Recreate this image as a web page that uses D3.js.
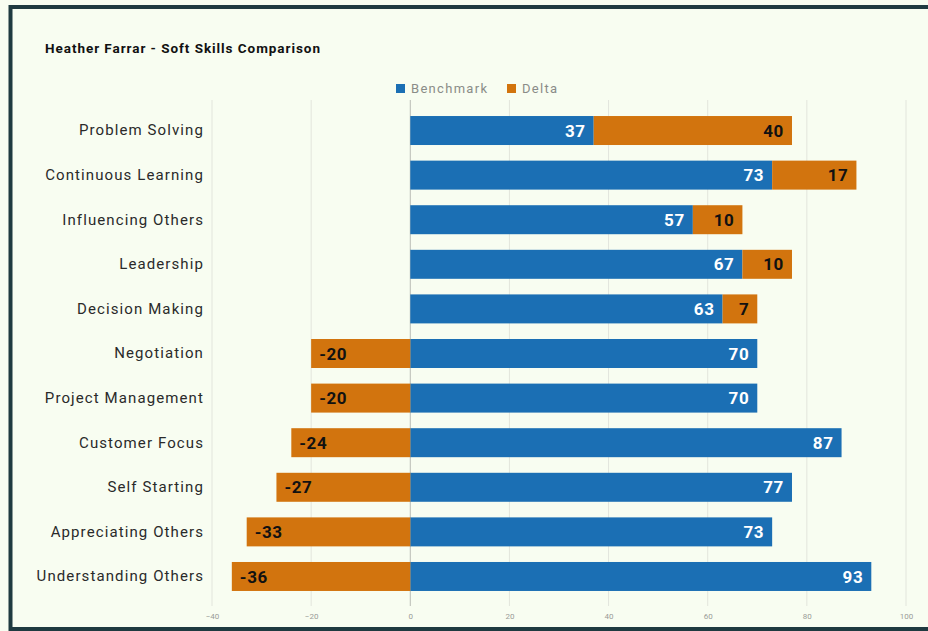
<!DOCTYPE html>
<html>
<head>
<meta charset="utf-8">
<script src="https://cdn.jsdelivr.net/npm/d3@7"></script>
<style>
  html, body { margin: 0; padding: 0; background: #f8fdf1; }
  svg { display: block; }
</style>
</head>
<body>
<svg id="chart" width="928" height="631"></svg>
<script>
// Soft skills: benchmark score and the delta against it
const skills = ["Problem Solving", "Continuous Learning", "Influencing Others", "Leadership",
  "Decision Making", "Negotiation", "Project Management", "Customer Focus",
  "Self Starting", "Appreciating Others", "Understanding Others"];
const benchmark = [37, 73, 57, 67, 63, 70, 70, 87, 77, 73, 93];
const delta = [40, 17, 10, 10, 7, -20, -20, -24, -27, -33, -36];
const xTicks = [-40, -20, 0, 20, 40, 60, 80, 100];
const seriesNames = ["Benchmark", "Delta"];

const colors = { Benchmark: "#1b6fb4", Delta: "#d2740e" };
const svg = d3.select("#chart");

// Frame
svg.append("rect").attr("x", 0).attr("y", 0).attr("width", 928).attr("height", 631).attr("fill", "#f8fdf1");
svg.append("path")
  .attr("d", "M928,7 H10.5 V629 H928")
  .attr("fill", "none").attr("stroke", "#1f3a40").attr("stroke-width", 4);

// Title
svg.append("text").attr("x", 45).attr("y", 53)
  .attr("font-family", "Roboto, 'Noto Sans', sans-serif").attr("font-size", 13.5).attr("font-weight", "bold")
  .attr("letter-spacing", 0.95)
  .attr("fill", "#111").text("Heather Farrar - Soft Skills Comparison");

const x = d3.scaleLinear().domain([-40, 100]).range([212, 906]);
const y = d3.scaleBand().domain(skills).range([108, 599]).paddingInner(0.35).paddingOuter(0.18);

// Gridlines
const grid = svg.append("g");
grid.selectAll("line").data(xTicks).join("line")
  .attr("x1", d => x(d)).attr("x2", d => x(d))
  .attr("y1", 100).attr("y2", 606)
  .attr("stroke", d => d === 0 ? "#b9bcb5" : "#e2e5dc").attr("stroke-width", 1);

// Bottom axis labels
const axis = d3.axisBottom(x).tickValues(xTicks).tickSize(0).tickPadding(0);
const axG = svg.append("g").attr("transform", "translate(0,613)").call(axis);
axG.select(".domain").remove();
axG.selectAll("text").attr("font-family", "Roboto, sans-serif").attr("font-size", 8).attr("fill", "#9a9c98");

// Category labels
const yAxis = d3.axisLeft(y).tickSize(0).tickPadding(0);
const yG = svg.append("g").attr("transform", "translate(204,0)").call(yAxis);
yG.select(".domain").remove();
yG.selectAll("text").attr("font-family", "Roboto, sans-serif").attr("font-size", 15)
  .attr("letter-spacing", 1.1).attr("fill", "#2a2a2a");

const rows = skills.map((s, i) => ({ skill: s, b: benchmark[i], d: delta[i] }));

// Benchmark bars from zero
svg.append("g").selectAll("rect").data(rows).join("rect")
  .attr("x", d => x(0)).attr("y", d => y(d.skill))
  .attr("width", d => x(d.b) - x(0)).attr("height", y.bandwidth())
  .attr("fill", colors.Benchmark);

// Delta bars: positive stacks after benchmark, negative extends left of zero
const dStart = d => d.d >= 0 ? d.b : 0;
const dEnd = d => d.d >= 0 ? d.b + d.d : d.d;
svg.append("g").selectAll("rect").data(rows).join("rect")
  .attr("x", d => x(Math.min(dStart(d), dEnd(d)))).attr("y", d => y(d.skill))
  .attr("width", d => Math.abs(x(dEnd(d)) - x(dStart(d)))).attr("height", y.bandwidth())
  .attr("fill", colors.Delta);

const labelFont = "Roboto, 'Noto Sans', sans-serif";
// Benchmark value labels
svg.append("g").selectAll("text").data(rows).join("text")
  .attr("x", d => x(d.b) - 8).attr("y", d => y(d.skill) + y.bandwidth() / 2)
  .attr("dy", "0.36em").attr("text-anchor", "end")
  .attr("font-family", labelFont).attr("font-size", 17).attr("font-weight", "bold")
  .attr("letter-spacing", 0.6)
  .attr("fill", "#ffffff").text(d => d.b);

// Delta value labels
svg.append("g").selectAll("text").data(rows).join("text")
  .attr("x", d => d.d >= 0 ? x(dEnd(d)) - 8 : x(dEnd(d)) + 8)
  .attr("y", d => y(d.skill) + y.bandwidth() / 2)
  .attr("dy", "0.36em").attr("text-anchor", d => d.d >= 0 ? "end" : "start")
  .attr("font-family", labelFont).attr("font-size", 17).attr("font-weight", "bold")
  .attr("letter-spacing", 0.6)
  .attr("fill", "#111").text(d => d.d);

// Legend
const legend = svg.append("g").attr("transform", "translate(396,88)");
const items = [{ name: seriesNames[0], x: 0 }, { name: seriesNames[1], x: 111 }];
items.forEach(it => {
  legend.append("rect").attr("x", it.x).attr("y", -4).attr("width", 9).attr("height", 9).attr("fill", colors[it.name]);
  legend.append("text").attr("x", it.x + 15).attr("y", 0).attr("dy", "0.35em")
    .attr("font-family", "Roboto, sans-serif").attr("font-size", 13).attr("letter-spacing", 1.3)
    .attr("fill", "#8a8c88").text(it.name);
});
</script>
</body>
</html>
